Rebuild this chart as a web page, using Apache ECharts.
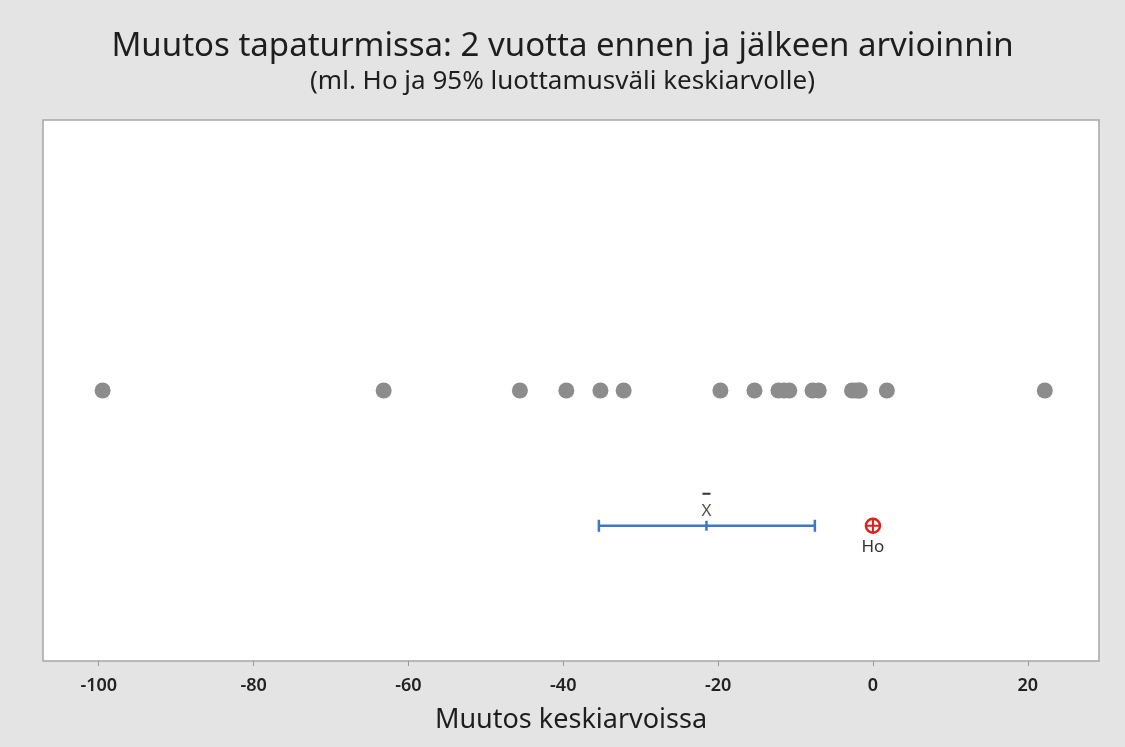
<!DOCTYPE html>
<html lang="fi">
<head>
  <meta charset="UTF-8" />
  <script src="https://cdn.jsdelivr.net/npm/echarts@6/dist/echarts.min.js"></script>
  <title>Muutos tapaturmissa</title>
  <style>
    html, body { margin: 0; padding: 0; background: #e4e4e4; }
  </style>
</head>
<body>
  <div id="main" style="width: 1125px; height: 747px;"></div>
  <script type="text/javascript">
    // muutokset keskiarvoissa (yksittäiset havainnot)
    var changes = [-99.5, -63.2, -45.6, -39.6, -35.2, -32.2, -19.7, -15.3,
      -12.2, -11.5, -10.8, -7.8, -7.0, -2.7, -2.2, -1.8, -1.7, 1.8, 22.2];
    // 95% luottamusväli: alaraja, keskiarvo, yläraja
    var ciLow = -35.4;
    var ciMean = -21.5;
    var ciHigh = -7.5;
    var h0 = 0;
    var tickValues = [-100, -80, -60, -40, -20, 0, 20];

    var dotRow = 0.5;  // pisteiden rivi
    var ciRow = 0.25;  // luottamusvälin rivi

    var myChart = echarts.init(document.getElementById('main'));

    function renderCI(params, api) {
      var lo = api.coord([api.value(0), api.value(3)]);
      var mid = api.coord([api.value(1), api.value(3)]);
      var hi = api.coord([api.value(2), api.value(3)]);
      var blue = '#3d78c2';
      var cap = 6;
      return {
        type: 'group',
        children: [
          { type: 'line', shape: { x1: lo[0], y1: lo[1], x2: hi[0], y2: hi[1] }, style: { stroke: blue, lineWidth: 2.5 } },
          { type: 'line', shape: { x1: lo[0], y1: lo[1] - cap, x2: lo[0], y2: lo[1] + cap }, style: { stroke: blue, lineWidth: 2.5 } },
          { type: 'line', shape: { x1: hi[0], y1: hi[1] - cap, x2: hi[0], y2: hi[1] + cap }, style: { stroke: blue, lineWidth: 2.5 } },
          { type: 'line', shape: { x1: mid[0], y1: mid[1] - 5, x2: mid[0], y2: mid[1] + 5 }, style: { stroke: blue, lineWidth: 2.5 } },
          // X-viiva
          { type: 'line', shape: { x1: mid[0] - 4, y1: mid[1] - 32, x2: mid[0] + 4, y2: mid[1] - 32 }, style: { stroke: '#333', lineWidth: 2 } },
          { type: 'text', x: mid[0], y: mid[1] - 15, style: { text: 'X', fill: '#55504a', font: '17px "Noto Sans"', align: 'center', verticalAlign: 'middle' } }
        ]
      };
    }

    function renderH0(params, api) {
      var p = api.coord([api.value(0), api.value(1)]);
      var red = '#e0201c';
      var r = 7;
      return {
        type: 'group',
        children: [
          { type: 'circle', shape: { cx: p[0], cy: p[1], r: r }, style: { fill: 'none', stroke: red, lineWidth: 2.5 } },
          { type: 'line', shape: { x1: p[0] - r, y1: p[1], x2: p[0] + r, y2: p[1] }, style: { stroke: red, lineWidth: 2 } },
          { type: 'line', shape: { x1: p[0], y1: p[1] - r, x2: p[0], y2: p[1] + r }, style: { stroke: red, lineWidth: 2 } },
          { type: 'text', x: p[0], y: p[1] + 21, style: { text: 'Ho', fill: '#333', font: '17px "Noto Sans"', align: 'center', verticalAlign: 'middle' } }
        ]
      };
    }

    myChart.setOption({
      backgroundColor: '#e4e4e4',
      animation: false,
      title: {
        text: 'Muutos tapaturmissa: 2 vuotta ennen ja jälkeen arvioinnin',
        subtext: '(ml. Ho ja 95% luottamusväli keskiarvolle)',
        left: 'center',
        top: 25,
        itemGap: 6,
        textStyle: { fontFamily: 'Noto Sans', fontSize: 33, fontWeight: 'normal', color: '#1e1e1e' },
        subtextStyle: { fontFamily: 'Noto Sans', fontSize: 26, color: '#1e1e1e' }
      },
      grid: {
        left: 43, right: 26, top: 120, bottom: 86,
        show: true,
        backgroundColor: '#ffffff',
        borderColor: '#a6a6a6',
        borderWidth: 1.5
      },
      xAxis: {
        type: 'value',
        min: -107.2,
        max: 29.2,
        name: 'Muutos keskiarvoissa',
        nameLocation: 'middle',
        nameGap: 46,
        nameTextStyle: { fontFamily: 'Noto Sans', fontSize: 27, color: '#1e1e1e' },
        axisLine: { show: false },
        splitLine: { show: false },
        axisTick: { show: true, length: 5, lineStyle: { color: '#999' }, customValues: tickValues },
        axisLabel: { customValues: tickValues, margin: 16, fontFamily: 'Noto Sans', fontSize: 18, fontWeight: 600, color: '#222' }
      },
      yAxis: {
        type: 'value',
        min: 0,
        max: 1,
        show: false
      },
      series: [
        {
          type: 'scatter',
          symbol: 'circle',
          symbolSize: 16,
          itemStyle: { color: '#8c8c8c', opacity: 1 },
          data: changes.map(function (v) { return [v, dotRow]; }),
          z: 3
        },
        {
          type: 'custom',
          renderItem: renderCI,
          data: [[ciLow, ciMean, ciHigh, ciRow]],
          z: 4
        },
        {
          type: 'custom',
          renderItem: renderH0,
          data: [[h0, ciRow]],
          z: 4
        }
      ]
    });
  </script>
</body>
</html>
